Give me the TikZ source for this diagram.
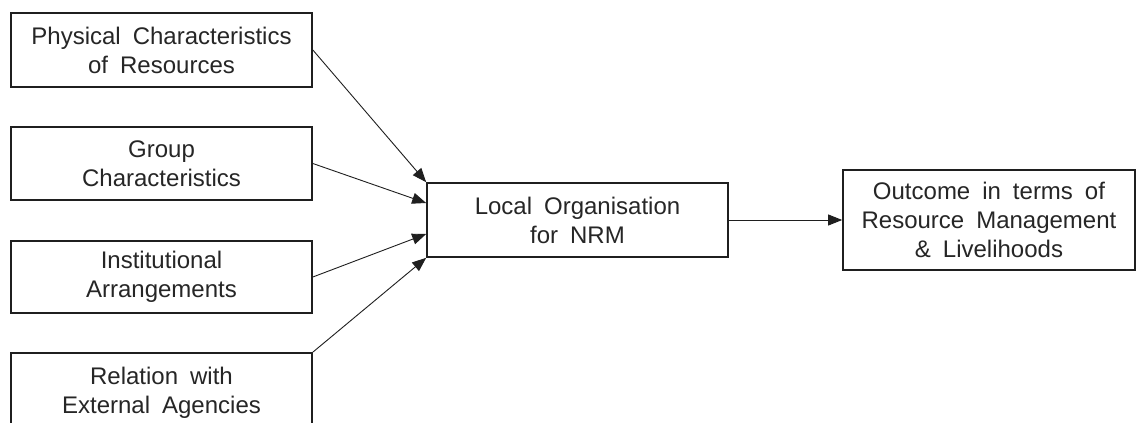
\documentclass[tikz,border=0pt]{standalone}
\usepackage{fontspec}
\setmainfont{Liberation Sans}
\usetikzlibrary{arrows.meta}
\newcommand\myboxfont{\fontsize{24}{29}\selectfont\spaceskip=12pt plus 2pt minus 1pt\relax}
\begin{document}
\begin{tikzpicture}[x=1pt,y=-1pt,
  box/.style={draw=black!88, line width=1.7pt, fill=white, inner sep=0pt, align=center,
    font=\myboxfont, text=black!85},
  conn/.style={draw=black!88, line width=0.9pt, -{Triangle[length=14pt,width=11pt]}}]
\clip (0,0) rectangle (1136,423);
\fill[white] (0,0) rectangle (1136,423);
\node[box, minimum width=301pt, minimum height=74pt] (b1) at (161.5,50) {Physical Characteristics\\of Resources};
\node[box, minimum width=301pt, minimum height=73pt] (b2) at (161.5,163.5) {Group\\Characteristics};
\node[box, minimum width=301pt, minimum height=72pt] (b3) at (161.5,277) {Institutional\\Arrangements};
\node[box, minimum width=301pt, minimum height=74pt, text depth=0pt] (b4) at (161.5,390) {Relation with\\External Agencies};
\node[box, minimum width=301pt, minimum height=74pt] (mid) at (577.5,220) {Local Organisation\\for NRM};
\node[box, minimum width=292pt, minimum height=100pt] (out) at (989,220) {Outcome in terms of\\Resource Management\\\& Livelihoods};
\coordinate (m2) at ([yshift=17pt]mid.west);
\coordinate (m3) at ([yshift=-14pt]mid.west);
\draw[conn] (b1.east) -- (mid.north west);
\draw[conn] (b2.east) -- (m2);
\draw[conn] (b3.east) -- (m3);
\draw[conn] (b4.north east) -- (mid.south west);
\draw[conn] (mid.east) -- (out.west);
\end{tikzpicture}
\end{document}
